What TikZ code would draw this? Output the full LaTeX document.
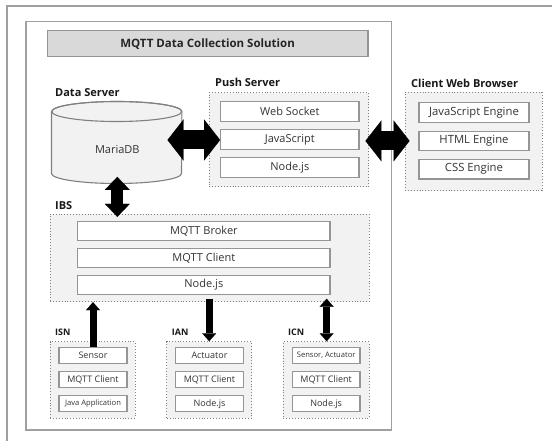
\documentclass[tikz,border=0pt]{standalone}
\usepackage{fontspec}
\setmainfont{Open Sans}
\usetikzlibrary{arrows.meta,calc}
\definecolor{grpfill}{HTML}{F2F2F2}
\definecolor{grpline}{HTML}{808080}
\definecolor{boxline}{HTML}{959595}
\definecolor{txt}{HTML}{333333}
\definecolor{titlefill}{HTML}{D9D9D9}
\definecolor{frameline}{HTML}{A0A0A0}
\begin{document}
\begin{tikzpicture}[x=1pt,y=-1pt,
  outerline/.style={draw=frameline, line width=1.2pt},
  mainframe/.style={draw=frameline, line width=1.4pt, fill=white, inner sep=0},
  titlebox/.style={draw=boxline, line width=1.3pt, fill=titlefill, inner sep=0, font=\bfseries\fontsize{11.5}{13}\selectfont, text=black!85},
  grp/.style={draw=grpline, dotted, line width=0.9pt, fill=grpfill, inner sep=0},
  comp/.style={draw=boxline, line width=1.2pt, fill=white, inner sep=0, text=txt, font=\fontsize{11}{13}\selectfont},
  ccomp/.style={comp, font=\fontsize{11.3}{13}\selectfont},
  scomp/.style={comp, font=\fontsize{9}{11}\selectfont},
  tcomp/.style={comp, font=\fontsize{7.6}{9}\selectfont},
  lbl/.style={anchor=base west, inner sep=0, font=\bfseries\fontsize{11}{13}\selectfont, text=black!90},
  slbl/.style={lbl, font=\bfseries\fontsize{9}{11}\selectfont},
  cyl/.style={draw=grpline, line width=1.1pt, fill=grpfill},
  bigarrow/.style={line width=19pt, {Triangle[width=41pt,length=16pt,line width=0.1pt]}-{Triangle[width=41pt,length=16pt,line width=0.1pt]}},
  vbigarrow/.style={line width=12pt, {Triangle[width=25pt,length=13pt,line width=0.1pt]}-{Triangle[width=25pt,length=13pt,line width=0.1pt]}},
  thinarrow/.style={line width=7pt, -{Triangle[width=14pt,length=8pt,line width=0.1pt]}},
  thindarrow/.style={line width=7pt, {Triangle[width=14pt,length=8pt,line width=0.1pt]}-{Triangle[width=14pt,length=8pt,line width=0.1pt]}}
]
\useasboundingbox (0,0) rectangle (552,441);
\fill[white] (0,0) rectangle (552,441);
\draw[outerline] (7,441) -- (7,6) -- (552,6);
\node[mainframe, minimum width=365.7pt, minimum height=408.3pt] (frame) at (208.85,225.85) {};
\node[titlebox, minimum width=320.8pt, minimum height=25.9pt] (title) at (207.6,43.75) {MQTT Data Collection Solution};

% Data server
\node[lbl] (dsl) at (55,96.7) {Data Server};
\node[inner sep=0, minimum width=130pt, minimum height=81.6pt] (db) at (116.7,142.5) {};
\filldraw[cyl] ($(db.north west)+(0,10)$) -- ($(db.south west)+(0,-10)$)
  arc[start angle=180, end angle=0, x radius=65, y radius=10]
  -- ($(db.north east)+(0,10)$)
  arc[start angle=0, end angle=-180, x radius=65, y radius=10] -- cycle;
\draw[cyl, fill=none] ($(db.north)+(0,10)$) ellipse [x radius=65, y radius=10];
\node[inner sep=0, text=txt, font=\fontsize{11}{13}\selectfont] (dbl) at (117.3,150) {MariaDB};

% Push server
\node[lbl] (psl) at (215,87) {Push Server};
\node[grp, minimum width=159.4pt, minimum height=94pt] (push) at (289,139.7) {};
\node[comp, minimum width=138.3pt, minimum height=20pt] (ws) at (289.85,111.7) {Web Socket};
\node[comp, minimum width=138.3pt, minimum height=20pt] (js) at (289.85,139.3) {JavaScript};
\node[comp, minimum width=138.3pt, minimum height=20pt] (pnode) at (289.85,167.7) {Node.js};

% Client web browser
\node[lbl] (cwl) at (411,88) {Client Web Browser};
\node[grp, minimum width=137pt, minimum height=98.2pt] (client) at (473.5,141.6) {};
\node[ccomp, minimum width=110pt, minimum height=19.5pt] (jse) at (474,112.4) {JavaScript Engine};
\node[ccomp, minimum width=110pt, minimum height=19.5pt] (html) at (474,140.9) {HTML Engine};
\node[ccomp, minimum width=110pt, minimum height=19.5pt] (css) at (474,169.2) {CSS Engine};

% IBS
\node[lbl] (ibsl) at (55,210) {IBS};
\node[grp, minimum width=319pt, minimum height=87.7pt] (ibs) at (209.5,257.85) {};
\node[comp, minimum width=252.3pt, minimum height=19pt] (broker) at (203.85,231.35) {MQTT Broker};
\node[comp, minimum width=252.3pt, minimum height=19pt] (iclient) at (203.85,258.35) {MQTT Client};
\node[comp, minimum width=252.3pt, minimum height=19pt] (inode) at (203.85,285) {Node.js};

% ISN
\node[slbl] (isnl) at (55,335) {ISN};
\node[grp, minimum width=85pt, minimum height=76.6pt] (isn) at (92.5,380) {};
\node[scomp, minimum width=68pt, minimum height=16pt] (s1) at (93,355.5) {Sensor};
\node[scomp, minimum width=68pt, minimum height=16pt] (s2) at (93,379.7) {MQTT Client};
\node[tcomp, minimum width=68pt, minimum height=16pt] (s3) at (93,403.85) {Java Application};

% IAN
\node[slbl] (ianl) at (171.7,335) {IAN};
\node[grp, minimum width=85pt, minimum height=76.6pt] (ian) at (209.2,380) {};
\node[scomp, minimum width=67.6pt, minimum height=16pt] (a1) at (209.5,355.5) {Actuator};
\node[scomp, minimum width=67.6pt, minimum height=16pt] (a2) at (209.5,379.7) {MQTT Client};
\node[scomp, minimum width=67.6pt, minimum height=16pt] (a3) at (209.5,403.85) {Node.js};

% ICN
\node[slbl] (icnl) at (288,335) {ICN};
\node[grp, minimum width=85.7pt, minimum height=76.6pt] (icn) at (326.15,380) {};
\node[tcomp, minimum width=67.7pt, minimum height=16pt] (c1) at (326.15,355.5) {Sensor, Actuator};
\node[scomp, minimum width=67.7pt, minimum height=16pt] (c2) at (326.15,379.7) {MQTT Client};
\node[scomp, minimum width=67.7pt, minimum height=16pt] (c3) at (326.15,403.85) {Node.js};

% Arrows
\draw[bigarrow] ($(db.east |- js.west)+(-14.4,0.7)$) -- ($(js.west)+(0,0.7)$);
\draw[bigarrow] ($(push.east |- html.west)+(-3.7,0)$) -- ($(client.west |- html.west)+(5,0)$);
\draw[vbigarrow] ($(db.south)+(0.6,-6.6)$) -- ($(ibs.north -| db.south)+(0.6,3.3)$);
\draw[thinarrow] (s1.north) -- (ibs.south -| s1.north);
\draw[thinarrow] ($(inode.south -| ian.north)+(0,3.7)$) -- (ian.north);
\draw[thindarrow] ($(ibs.south -| icn.north)+(0.5,-3.4)$) -- ($(icn.north)+(0.5,0)$);
\end{tikzpicture}
\end{document}
